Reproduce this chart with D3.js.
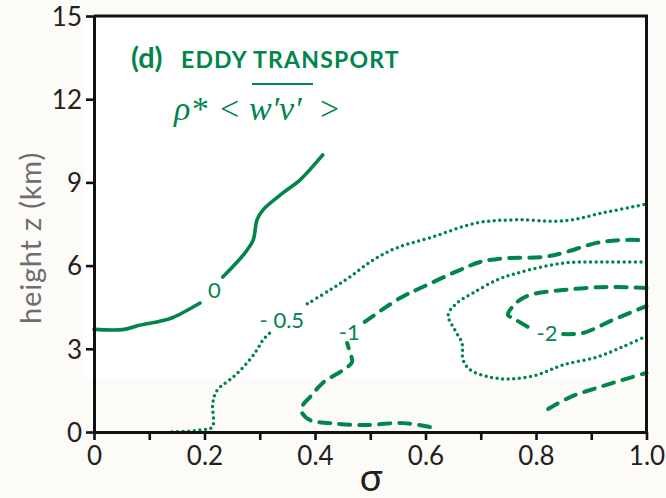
<!DOCTYPE html>
<html>
<head>
<meta charset="utf-8">
<script src="https://cdn.jsdelivr.net/npm/d3@7"></script>
<style>
  html, body { margin: 0; padding: 0; background: #fcfbf7; }
  svg { display: block; }
</style>
</head>
<body>
<div id="chart"></div>
<script>
// axis ticks
const xTicks = [0, 0.1, 0.2, 0.3, 0.4, 0.5, 0.6, 0.7, 0.8, 0.9, 1.0];
const xLabelTicks = [0, 0.2, 0.4, 0.6, 0.8, 1.0];
const yTicks = [0, 3, 6, 9, 12, 15];

// contour lines, [sigma, z km]; split where the labels sit
const zeroA = [[0, 3.7], [0.055, 3.7], [0.08, 3.84], [0.119, 3.99], [0.143, 4.13], [0.192, 4.65]];
const zeroB = [[0.233, 5.59], [0.27, 6.38], [0.288, 6.92], [0.295, 7.65], [0.306, 8.01], [0.342, 8.62], [0.373, 9.09], [0.414, 9.99]];

const halfA = [[0.141, 0.0], [0.192, 0.07], [0.214, 0.18], [0.215, 1.05], [0.223, 1.51], [0.252, 1.98], [0.277, 2.49], [0.295, 2.96], [0.306, 3.32], [0.324, 3.68]];
const halfB = [[0.386, 4.62], [0.427, 5.12], [0.463, 5.59], [0.505, 6.2], [0.548, 6.64], [0.608, 7.0], [0.693, 7.54], [0.766, 7.65], [0.849, 7.61], [0.928, 7.93], [1.0, 8.22]];

const oneA = [[0.608, 0.18], [0.559, 0.32], [0.487, 0.25], [0.427, 0.32], [0.391, 0.43], [0.376, 0.72], [0.378, 0.97], [0.391, 1.26], [0.414, 1.77], [0.451, 2.24], [0.467, 2.52], [0.463, 2.88], [0.458, 3.21]];
const oneB = [[0.49, 3.97], [0.554, 4.83], [0.595, 5.23], [0.662, 5.84], [0.699, 6.13], [0.747, 6.27], [0.813, 6.31], [0.849, 6.46], [0.91, 6.82], [0.952, 6.92], [1.0, 6.92]];
const oneC = [[0.822, 0.83], [0.862, 1.26], [0.91, 1.59], [0.957, 1.88], [1.0, 2.13]];

const oneHalf = [[1.0, 6.13], [0.928, 6.13], [0.849, 6.09], [0.766, 5.73], [0.729, 5.48], [0.686, 5.01], [0.657, 4.65], [0.641, 4.22], [0.653, 3.68], [0.666, 3.21], [0.668, 2.6], [0.681, 2.24], [0.717, 1.98], [0.753, 1.91], [0.802, 2.06], [0.849, 2.42], [0.91, 2.7], [0.957, 3.07], [1.0, 3.46]];

const twoA = [[1.0, 5.19], [0.928, 5.23], [0.849, 5.12], [0.789, 4.94], [0.766, 4.69], [0.749, 4.22], [0.758, 4.11], [0.785, 3.79]];
const twoB = [[0.849, 3.53], [0.885, 3.57], [0.939, 4.04], [1.0, 4.54]];

const labels = [
  { text: "0", x: 0.218, z: 5.1 },
  { text: "- 0.5", x: 0.34, z: 4.03 },
  { text: "-1", x: 0.462, z: 3.6 },
  { text: "-2", x: 0.82, z: 3.55 }
];

const width = 666, height = 498;
const green = "#00854a";

const svg = d3.select("#chart").append("svg")
  .attr("width", width)
  .attr("height", height);

const x = d3.scaleLinear().domain([0, 1]).range([94, 646.5]);
const y = d3.scaleLinear().domain([0, 15]).range([432, 16]);

// white plot background (the lower band stays off-white as in the figure)
svg.append("rect")
  .attr("x", 84).attr("y", y(15))
  .attr("width", x(1) - 84).attr("height", 379 - y(15))
  .attr("fill", "#ffffff");

const line = d3.line()
  .x(d => x(d[0]))
  .y(d => y(d[1]))
  .curve(d3.curveCatmullRom.alpha(0.5));

const styles = {
  solid: { width: 3.6, dash: null },
  dashed: { width: 4, dash: "11 9" },
  dotted: { width: 3.5, dash: "0 5.6" }
};

const contours = [
  { pts: zeroA, s: "solid" }, { pts: zeroB, s: "solid" },
  { pts: halfA, s: "dotted" }, { pts: halfB, s: "dotted" },
  { pts: oneA, s: "dashed" }, { pts: oneB, s: "dashed" }, { pts: oneC, s: "dashed" },
  { pts: oneHalf, s: "dotted" },
  { pts: twoA, s: "dashed" }, { pts: twoB, s: "dashed" }
];

svg.append("g").selectAll("path")
  .data(contours)
  .enter()
  .append("path")
  .attr("d", d => line(d.pts))
  .attr("fill", "none")
  .attr("stroke", green)
  .attr("stroke-width", d => styles[d.s].width)
  .attr("stroke-linecap", "round")
  .attr("stroke-linejoin", "round")
  .attr("stroke-dasharray", d => styles[d.s].dash);

svg.append("g").selectAll("text")
  .data(labels)
  .enter()
  .append("text")
  .attr("x", d => x(d.x))
  .attr("y", d => y(d.z))
  .attr("dy", "0.35em")
  .attr("text-anchor", "middle")
  .attr("font-family", "Lato, sans-serif")
  .attr("font-size", 22)
  .attr("fill", green)
  .text(d => d.text);

// axes
const xAxis = d3.axisBottom(x)
  .tickValues(xTicks)
  .tickSize(8)
  .tickSizeOuter(0)
  .tickPadding(7)
  .tickFormat(d => xLabelTicks.some(v => Math.abs(v - d) < 1e-9) ? (d === 0 ? "0" : d3.format(".1f")(d)) : "");

const yAxis = d3.axisLeft(y)
  .tickValues(yTicks)
  .tickSize(8)
  .tickSizeOuter(0)
  .tickPadding(4);

const gx = svg.append("g").attr("transform", `translate(0,${y(0)})`).call(xAxis);
const gy = svg.append("g").attr("transform", `translate(${x(0)},0)`).call(yAxis);

[gx, gy].forEach(g => {
  g.select(".domain").attr("stroke", "#111").attr("stroke-width", 3);
  g.selectAll(".tick line").attr("stroke", "#111").attr("stroke-width", 2.6);
  g.selectAll(".tick text")
    .attr("font-family", "Lato, sans-serif")
    .attr("font-size", 26)
    .attr("fill", "#231f20");
});
gy.selectAll(".tick text").attr("dy", "0.36em");

// frame top and right
svg.append("path")
  .attr("d", `M${x(0)},${y(15)}H${x(1)}V${y(0)}`)
  .attr("fill", "none")
  .attr("stroke", "#111")
  .attr("stroke-width", 3);

// axis titles
svg.append("text")
  .attr("transform", `translate(41,${(y(0) + y(15)) / 2 + 14}) rotate(-90)`)
  .attr("text-anchor", "middle")
  .attr("font-family", "Lato, sans-serif")
  .attr("font-size", 29)
  .attr("letter-spacing", 0.8)
  .attr("fill", "#6d6e71")
  .text("height z (km)");

svg.append("text")
  .attr("x", 371)
  .attr("y", 491)
  .attr("text-anchor", "middle")
  .attr("font-family", "Lato, sans-serif")
  .attr("font-size", 38)
  .attr("fill", "#231f20")
  .text("σ");

// panel title
const title = svg.append("text")
  .attr("x", 131)
  .attr("y", 68)
  .attr("font-family", "Lato, sans-serif")
  .attr("font-weight", "bold")
  .attr("fill", green);
title.append("tspan").attr("font-size", 29).text("(d)");
title.append("tspan").attr("x", 181).attr("font-size", 23).attr("letter-spacing", 1.2).text("EDDY TRANSPORT");

const formula = svg.append("text")
  .attr("y", 120)
  .attr("font-family", "'Liberation Serif', serif")
  .attr("font-size", 34)
  .attr("fill", green);
formula.append("tspan").attr("x", 174).attr("font-style", "italic").text("ρ*");
formula.append("tspan").attr("x", 220).text("<");
formula.append("tspan").attr("x", 249).attr("font-style", "italic").text("w′v′");
formula.append("tspan").attr("x", 320).text(">");

svg.append("line")
  .attr("x1", 252).attr("x2", 313)
  .attr("y1", 84).attr("y2", 84)
  .attr("stroke", green)
  .attr("stroke-width", 2);
</script>
</body>
</html>
